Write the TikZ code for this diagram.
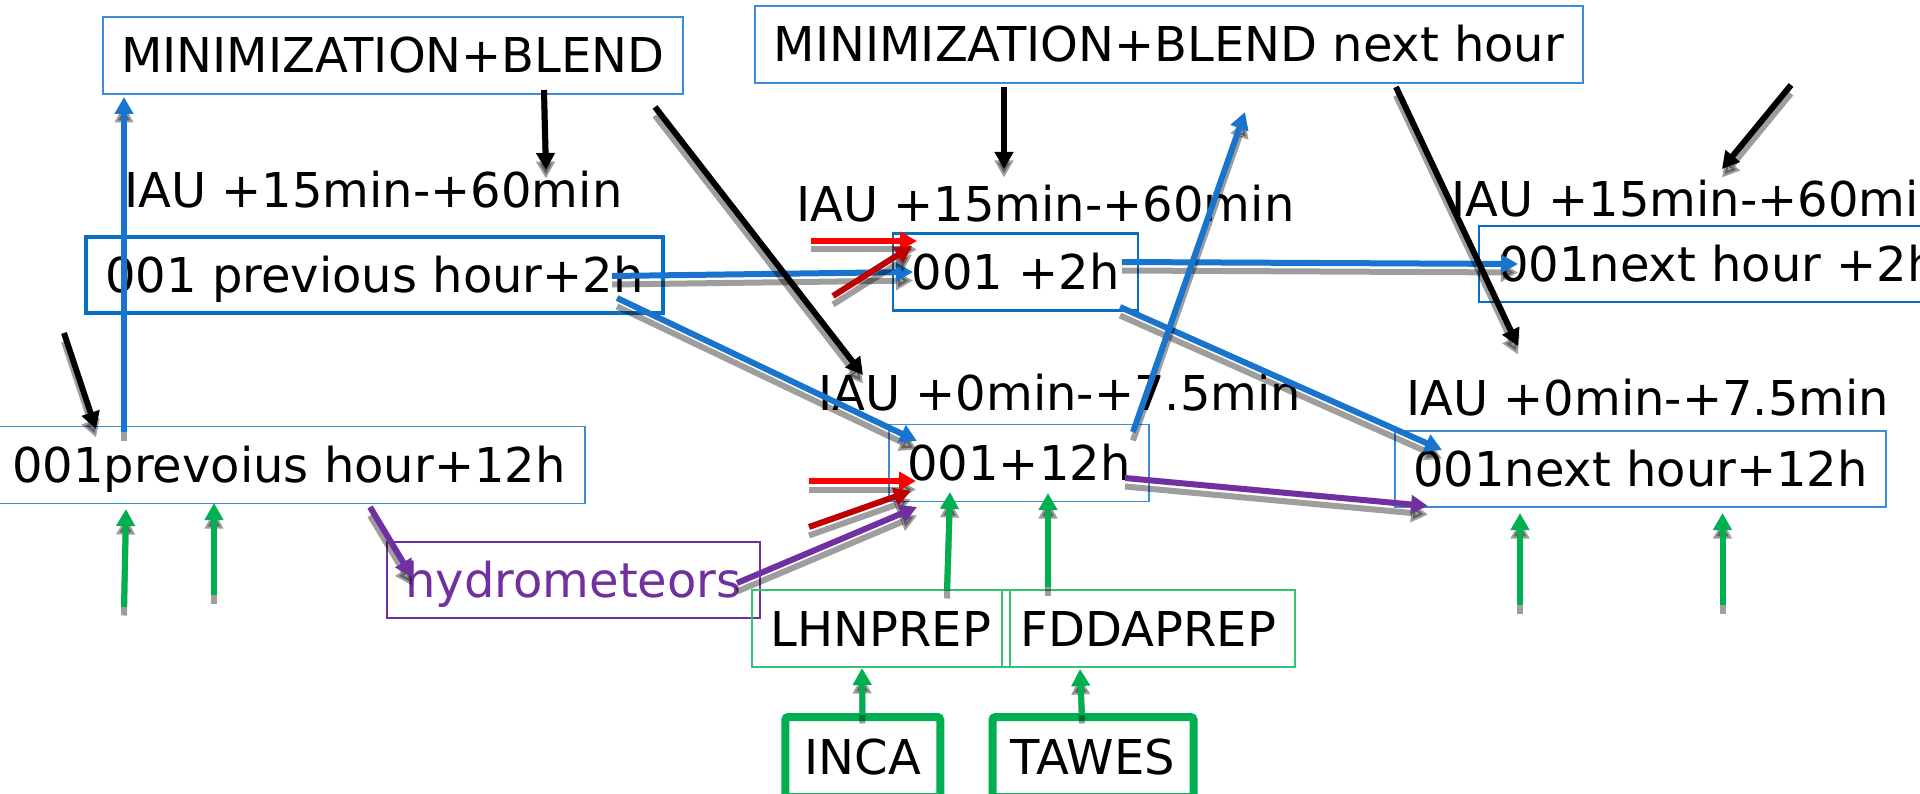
\documentclass[tikz,border=0pt]{standalone}
\usepackage{fontspec}
\setmainfont{DejaVu Sans}
\usetikzlibrary{arrows.meta,calc}
\definecolor{bluethin}{RGB}{60,140,215}
\definecolor{bluedark}{RGB}{10,110,195}
\definecolor{arrblue}{RGB}{24,116,205}
\definecolor{purp}{RGB}{112,48,160}
\definecolor{grn}{RGB}{0,176,80}
\definecolor{grnthin}{RGB}{50,195,115}
\definecolor{redA}{RGB}{255,0,0}
\definecolor{redB}{RGB}{192,0,0}
\tikzset{
  lbl/.style={font=\fontsize{48}{57}\selectfont, inner sep=0pt, text height=35pt, text depth=0pt},
  boxthin/.style={lbl, draw=bluethin, line width=1.6pt},
  boxmid/.style={lbl, draw=bluedark, line width=2.8pt},
  boxthick/.style={lbl, draw=bluedark, line width=4.5pt},
  boxpurp/.style={lbl, draw=purp, line width=1.3pt, text=purp},
  boxgrn/.style={lbl, draw=grnthin, line width=1.3pt},
  boxsrc/.style={lbl, draw=grn, line width=8pt, rounded corners=3pt},
  iau/.style={lbl, anchor=base west, text depth=0pt},
  conn/.style={line width=6pt, -{Triangle[length=17pt,width=18pt]},
    preaction={draw=black, line width=6pt, opacity=0.38,
      transform canvas={yshift=-8.5pt}}},
  cblue/.style={conn, draw=arrblue},
  cblack/.style={conn, draw=black},
  credA/.style={conn, draw=redA},
  credB/.style={conn, draw=redB},
  cpurp/.style={conn, draw=purp},
  cgrn/.style={conn, draw=grn},
}
\begin{document}
\begin{tikzpicture}[x=1pt,y=-1pt]
\useasboundingbox (0,0) rectangle (1920,794);
\fill[white] (0,0) rectangle (1920,794);

% boxes
\node[boxthin, minimum width=580pt, minimum height=77pt] (minA) at (393,55.5) {MINIMIZATION+BLEND};
\node[boxthin, minimum width=828pt, minimum height=77pt] (minB) at (1169,44.5) {MINIMIZATION+BLEND next hour};
\node[boxthick, minimum width=577pt, minimum height=76pt] (prevA) at (374.5,275) {001 previous hour+2h};
\node[boxthin, minimum width=592pt, minimum height=77pt] (prevB) at (289,465) {001prevoius hour+12h};
\node[boxmid, minimum width=245pt, minimum height=77pt] (c2) at (1015.5,272) {001 +2h};
\node[boxthin, minimum width=260pt, minimum height=77pt] (c12) at (1019,463) {001+12h};
\node[boxmid, minimum width=478pt, minimum height=76pt] (n2) at (1718,264) {001next hour +2h};
\node[boxthin, minimum width=491pt, minimum height=76pt] (n12) at (1640.5,469) {001next hour+12h};
\node[boxpurp, minimum width=373pt, minimum height=76pt] (hydro) at (573.5,580) {hydrometeors};
\node[boxgrn, minimum width=258pt, minimum height=77pt] (lhn) at (881,628.5) {LHNPREP};
\node[boxgrn, minimum width=293pt, minimum height=77pt] (fdda) at (1148.5,628.5) {FDDAPREP};
\node[boxsrc, minimum width=155pt, minimum height=80pt] (inca) at (862.75,757) {INCA};
\node[boxsrc, minimum width=201pt, minimum height=80pt] (tawes) at (1093,757) {TAWES};

% IAU window labels
\node[iau] (iau1) at (124,208) {IAU +15min-+60min};
\node[iau] (iau2) at (796,222) {IAU +15min-+60min};
\node[iau] (iau3) at (818,410) {IAU +0min-+7.5min};
\node[iau] (iau4) at (1451,217) {IAU +15min-+60min};
\node[iau] (iau5) at (1406,415) {IAU +0min-+7.5min};

% free ends
\coordinate (upend) at (1245,112);
\coordinate (bk5) at (1791,85);
\coordinate (bk6) at (64,333);
\coordinate (r1) at (811,241);
\coordinate (r2) at (833,296);
\coordinate (r3) at (809,481);
\coordinate (r4) at (809,527);
\coordinate (g1) at (124,607);
\coordinate (g2) at (214,595);
\coordinate (g7) at (1520,605);
\coordinate (g8) at (1722.5,605);

% blue cycling arrows
\draw[cblue] ($(prevB)+(-165,-33)$) -- ($(minA)+(-269,41.5)$);
\draw[cblue] ($(prevA)+(237.5,1)$) -- ($(c2)+(-102.5,0)$);
\draw[cblue] ($(prevA)+(242.5,23)$) -- ($(c12)+(-102,-22)$);
\draw[cblue] ($(c2)+(106.5,-10)$) -- ($(n2)+(-200,0)$);
\draw[cblue] ($(c2)+(104.5,35)$) -- ($(n12)+(-198.5,-19)$);
\draw[cblue] ($(c12)+(114,-31)$) -- (upend);

% analysis increments
\draw[cblack] ($(minA)+(151,34.5)$) -- ($(iau1.base west)+(422,-38)$);
\draw[cblack] ($(minA)+(262,51.5)$) -- ($(iau3.base west)+(45,-35)$);
\draw[cblack] ($(minB)+(-165,42.5)$) -- ($(iau2.base west)+(208,-53)$);
\draw[cblack] ($(minB)+(227,42.5)$) -- ($(iau5.base west)+(112,-69)$);
\draw[cblack] (bk5) -- ($(iau4.base west)+(271,-48)$);
\draw[cblack] (bk6) -- ($(prevB)+(-193,-36)$);

% red inputs
\draw[credA] (r1) -- ($(c2)+(-98.5,-31)$);
\draw[credB] (r2) -- ($(c2)+(-103.5,-26)$);
\draw[credA] (r3) -- ($(c12)+(-103,18)$);
\draw[credB] (r4) -- ($(c12)+(-108,28)$);

% hydrometeors
\draw[cpurp] ($(prevB)+(81,42)$) -- ($(hydro)+(-161.5,-3)$);
\draw[cpurp] ($(hydro)+(163.5,3)$) -- ($(c12)+(-102,44)$);
\draw[cpurp] ($(c12)+(106,15)$) -- ($(n12)+(-212.5,37)$);

% observations
\draw[cgrn] (g1) -- ($(prevB)+(-163,44)$);
\draw[cgrn] (g2) -- ($(prevB)+(-75,38)$);
\draw[cgrn] ($(lhn)+(66,-38.5)$) -- ($(c12)+(-69,29)$);
\draw[cgrn] ($(fdda)+(-100.5,-41.5)$) -- ($(c12)+(29,30)$);
\draw[cgrn] ($(inca)+(-0.25,-42)$) -- ($(lhn)+(-19,39.5)$);
\draw[cgrn] ($(tawes)+(-11,-42)$) -- ($(fdda)+(-68.5,40.5)$);
\draw[cgrn] (g7) -- ($(n12)+(-120.5,44)$);
\draw[cgrn] (g8) -- ($(n12)+(82,44)$);
\end{tikzpicture}
\end{document}
